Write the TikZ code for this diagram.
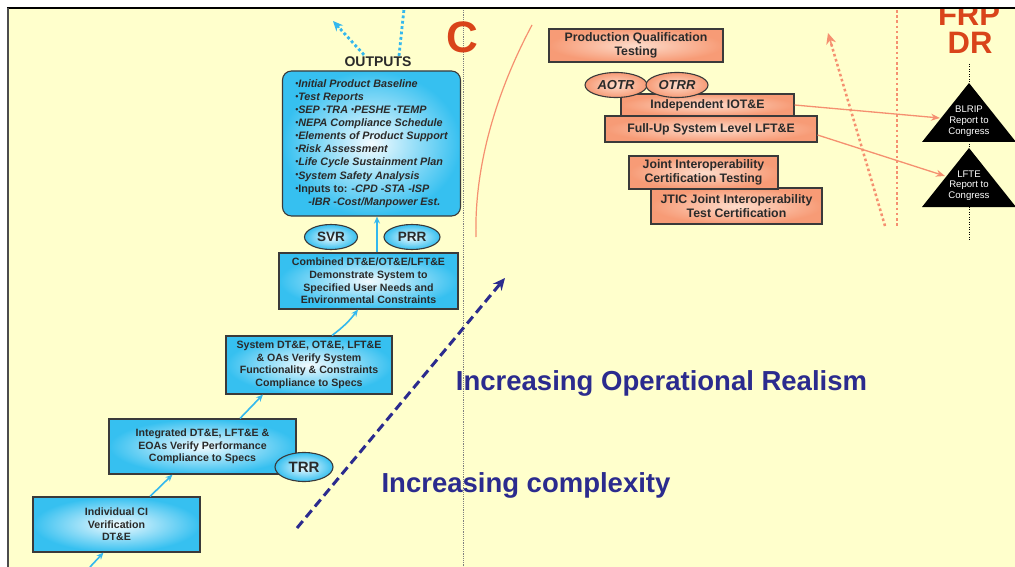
\documentclass[tikz,border=0pt]{standalone}
\usepackage{fontspec}
\setmainfont{Liberation Sans}
\usetikzlibrary{shapes.geometric,arrows.meta,calc}
\definecolor{bg}{HTML}{FFFFCC}
\definecolor{edge}{HTML}{3A3A3A}
\definecolor{txt}{HTML}{2A2A2A}
\definecolor{bluein}{HTML}{F2FBFF}
\definecolor{blueout}{HTML}{36C0F0}
\definecolor{orin}{HTML}{FDDCCB}
\definecolor{orout}{HTML}{F79B76}
\definecolor{arrowblue}{HTML}{33B8EE}
\definecolor{navy}{HTML}{2B2B8E}
\definecolor{redor}{HTML}{D9441A}
\definecolor{salmon}{HTML}{F59070}
\newcommand\bxfont{\fontsize{10.6}{12.7}\selectfont\bfseries}
\newcommand\orfont{\fontsize{12.3}{14}\selectfont\bfseries}
\newcommand\outfont{\fontsize{10.8}{13.1}\selectfont\bfseries\itshape}
\newcommand\bul{\raisebox{0.2ex}{\fontsize{8.5}{8}\selectfont\textbullet}}
\begin{document}
\begin{tikzpicture}[x=1pt,y=-1pt,
  bluebox/.style={draw=edge, line width=1.1pt, inner color=bluein, outer color=blueout, align=center, text=txt, font=\bxfont, inner sep=0pt},
  orbox/.style={draw=edge, line width=1.1pt, inner color=orin, outer color=orout, align=center, text=txt, font=\orfont, inner sep=0pt},
  blueell/.style={ellipse, draw=edge, line width=1.1pt, inner color=bluein, outer color=blueout, text=txt, inner sep=0pt, font=\fontsize{13.5}{14}\selectfont\bfseries},
  orell/.style={ellipse, draw=edge, line width=1.1pt, inner color=orin, outer color=orout, text=txt, inner sep=0pt, font=\fontsize{13}{14}\selectfont\bfseries\itshape, minimum width=62pt, minimum height=25pt},
  bluearrow/.style={draw=arrowblue, line width=1.6pt, -{Stealth[length=7pt,width=6pt]}},
  bluedots/.style={draw=arrowblue, line width=2.8pt, dash pattern=on 2.8pt off 2.6pt},
  saldots/.style={draw=salmon, line width=2.5pt, dash pattern=on 2.6pt off 2.6pt},
  salarrow/.style={draw=salmon, line width=1.3pt, -{Stealth[length=9pt,width=7pt]}},
  tri/.style={fill=black},
  tritext/.style={text=white, align=center, font=\fontsize{9.6}{10.8}\selectfont, inner sep=0pt},
  bigtext/.style={text=navy, font=\fontsize{27.5}{30}\selectfont\bfseries, inner sep=0pt},
  milestone/.style={text=redor, font=\fontsize{31}{29}\selectfont\bfseries, inner sep=0pt, align=center}]
\useasboundingbox (0,0) rectangle (1015,567);
\fill[white] (0,0) rectangle (1015,567);
\fill[bg] (8,8) rectangle (1015,567);

\begin{scope}
\clip (9,9) rectangle (1015,567);
% gray dotted divider
\draw[gray, line width=1pt, dash pattern=on 1.2pt off 1pt] (463,10) -- (463,567);
% black dotted at FRP DR
\draw[black, line width=0.9pt, dash pattern=on 1pt off 1.5pt] (969,64) -- (969,240);
% milestone letters
\node[milestone, font=\fontsize{44}{44}\selectfont\bfseries] (cmil) at (462,37) {C};
\node[milestone] (frp) at (969,15) {FRP};
\node[milestone] (dr) at (970,43) {DR};
% orange curve
\draw[salmon, line width=1.2pt] (532,25) .. controls (500,85) and (474,160) .. (476,237);
% salmon dotted
\coordinate (sdA) at (885,226);
\coordinate (sdB) at (828,33);
\coordinate (sdC) at ($(sdA)!0.95!(sdB)$);
\coordinate (sdD) at ($(sdA)!0.93!(sdB)$);
\draw[saldots] (897,10) -- (897,228);
\draw[saldots] (sdA) -- (sdC);
\draw[draw=salmon, line width=1.6pt, -{Stealth[length=11pt,width=10pt]}] (sdD) -- (sdB);
\end{scope}

% borders
\draw[black, line width=2pt] (7,8) -- (1015,8);
\draw[gray!60!black, line width=1.4pt] (8,8) -- (8,567);

% blue boxes
\node[bluebox, minimum width=167pt, minimum height=55pt] (indb) at (116.5,524.5) {Individual CI\\Verification\\DT\&E};
\node[bluebox, minimum width=187pt, minimum height=55pt] (intb) at (202.5,446.5) {Integrated DT\&E, LFT\&E \&\\EOAs Verify Performance\\Compliance to Specs};
\node[bluebox, minimum width=166pt, minimum height=58pt] (sysb) at (309,365) {System DT\&E, OT\&E, LFT\&E\\\& OAs Verify System\\Functionality \& Constraints\\Compliance to Specs};
\node[bluebox, minimum width=179pt, minimum height=56pt] (comb) at (368.5,281) {Combined DT\&E/OT\&E/LFT\&E\\Demonstrate System to\\Specified User Needs and\\Environmental Constraints};
\node[bluebox, rounded corners=9pt, minimum width=178pt, minimum height=145pt, align=left, font=\outfont] (outb) at (371.5,143.5) {%
\bul Initial Product  Baseline\\
\bul Test Reports\\
\bul SEP  \bul TRA  \bul PESHE  \bul TEMP\\
\bul NEPA Compliance Schedule\\
\bul Elements of Product Support\\
\bul Risk Assessment\\
\bul Life Cycle Sustainment Plan\\
\bul System Safety Analysis\\
\bul{\upshape Inputs to:} -CPD  -STA  -ISP\\
\hspace*{1.2em}-IBR -Cost/Manpower Est.};
\node[text=txt, font=\fontsize{14}{14}\selectfont\bfseries, inner sep=0pt] (outl) at (378,62) {OUTPUTS};

% ellipses
\node[blueell, minimum width=53pt, minimum height=25pt] (svr) at (331,237) {SVR};
\node[blueell, minimum width=56pt, minimum height=25pt] (prr) at (412,237) {PRR};
\node[blueell, minimum width=58pt, minimum height=29pt, font=\fontsize{15}{15}\selectfont\bfseries] (trr) at (304,467) {TRR};

% blue arrows
\coordinate (bot) at (90,567);
\draw[bluearrow] (bot) -- ($(indb.south)+(-13,0)$);
\draw[bluearrow] ($(indb.north)+(33.5,0)$) -- ($(intb.south)+(-30,0)$);
\draw[bluearrow] ($(intb.north)+(37.5,0)$) -- ($(sysb.south)+(-46,0)$);
\draw[bluearrow] ($(sysb.north)+(23,0)$) to[bend right=8] ($(comb.south)+(-10.5,0)$);
\draw[bluearrow] ($(comb.north)+(8.5,0)$) -- ($(outb.south)+(5.5,0)$);

% blue dotted from outputs
\coordinate (topv) at (404,9);
\coordinate (diag) at (333,21);
\coordinate (vA) at ($(outl.north)+(21,-1)$);
\coordinate (dA) at ($(outl.north)+(-14,-2)$);
\coordinate (dB) at ($(dA)!0.85!(diag)$);
\coordinate (dC) at ($(dA)!0.8!(diag)$);
\draw[bluedots] (vA) -- (topv);
\draw[bluedots] (dA) -- (dB);
\draw[draw=arrowblue, line width=1.6pt, -{Stealth[length=10pt,width=9pt]}] (dC) -- (diag);

% dashed navy arrow
\coordinate (dsA) at (297,528);
\coordinate (dsB) at (505,278);
\draw[navy, line width=3pt, dash pattern=on 9pt off 5pt, -{Stealth[length=12pt,width=11pt]}] (dsA) -- (dsB);

% big texts
\node[bigtext] (realism) at (661.5,383) {Increasing Operational Realism};
\node[bigtext] (complex) at (526,485) {Increasing complexity};

% orange boxes
\node[orbox, minimum width=174pt, minimum height=33pt] (pqt) at (636,45.5) {Production Qualification\\Testing};
\node[orbox, minimum width=212pt, minimum height=26pt] (fup) at (711,129) {Full-Up System Level LFT\&E};
\node[orbox, minimum width=173pt, minimum height=22pt] (iot) at (707.5,105) {Independent IOT\&E};
\node[orell] (aotr) at (616,85) {AOTR};
\node[orell] (otrr) at (677,85) {OTRR};
\node[orbox, minimum width=171pt, minimum height=36pt] (jtic) at (736.5,206) {JTIC Joint Interoperability\\Test Certification};
\node[orbox, minimum width=149pt, minimum height=33pt] (jict) at (703.5,172.5) {Joint Interoperability\\Certification Testing};

% triangles
\fill[tri] (969,83) -- (1016,142) -- (922,142) -- cycle;
\fill[tri] (969,148) -- (1016,207) -- (922,207) -- cycle;
\node[tritext] (blrip) at (969,121) {BLRIP\\Report to\\Congress};
\node[tritext] (lfte) at (969,185.5) {LFTE\\Report to\\Congress};
\coordinate (blripL) at (940,118);
\coordinate (lfteL) at (945,176);

\draw[salarrow] (iot.east) -- (blripL);
\draw[salarrow] ($(fup.east)+(0,6)$) -- (lfteL);
\end{tikzpicture}
\end{document}
